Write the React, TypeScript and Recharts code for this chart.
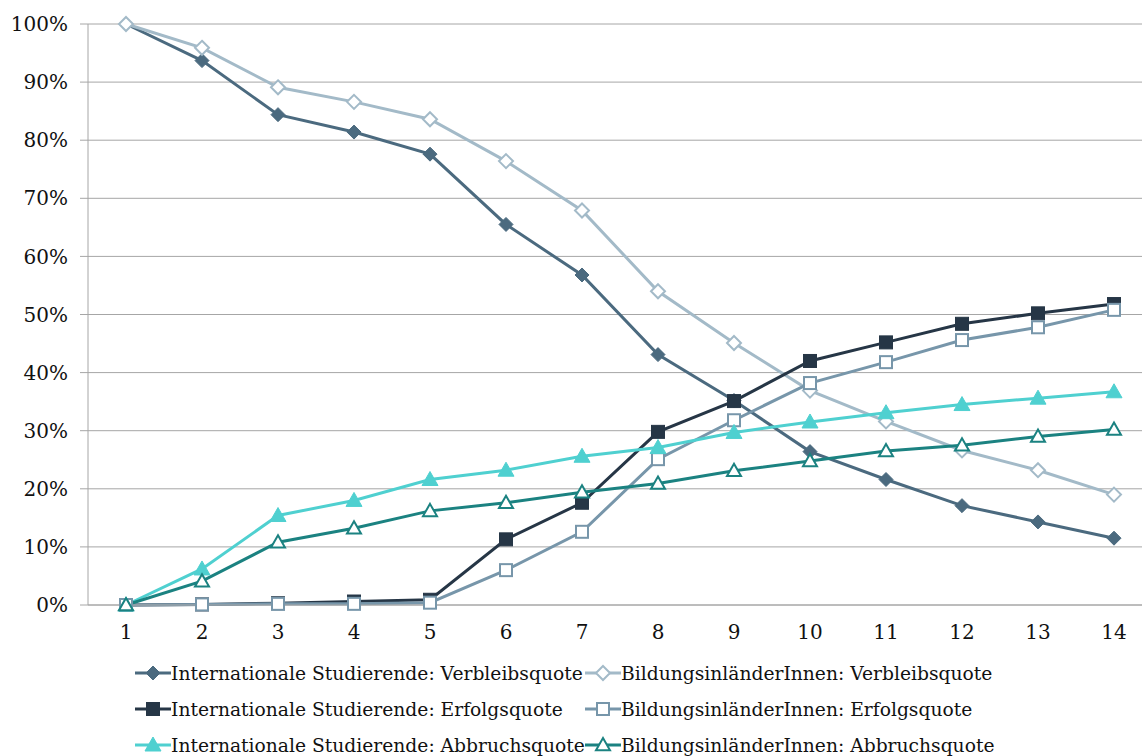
import React from "react";
import { LineChart, Line, XAxis, YAxis, CartesianGrid } from "recharts";

// Semester (Fachsemester) on the x axis
const semester = ["1", "2", "3", "4", "5", "6", "7", "8", "9", "10", "11", "12", "13", "14"];

// Quoten in Prozent
const intVerbleib = [100, 93.7, 84.4, 81.4, 77.6, 65.5, 56.8, 43.1, 35.2, 26.4, 21.6, 17.1, 14.3, 11.5];
const bilVerbleib = [100, 95.9, 89.1, 86.6, 83.6, 76.4, 67.9, 54.0, 45.1, 36.9, 31.6, 26.6, 23.2, 19.0];
const intErfolg = [0, 0.1, 0.3, 0.6, 0.9, 11.3, 17.6, 29.8, 35.1, 42.0, 45.2, 48.4, 50.2, 51.8];
const bilErfolg = [0, 0.1, 0.2, 0.2, 0.4, 6.0, 12.6, 25.1, 31.8, 38.2, 41.8, 45.6, 47.8, 50.8];
const intAbbruch = [0, 6.2, 15.4, 18.0, 21.6, 23.2, 25.6, 27.1, 29.7, 31.5, 33.1, 34.5, 35.6, 36.7];
const bilAbbruch = [0, 4.1, 10.8, 13.2, 16.2, 17.6, 19.4, 20.9, 23.1, 24.8, 26.5, 27.5, 29.0, 30.2];

const yTicks = [0, 10, 20, 30, 40, 50, 60, 70, 80, 90, 100];

const FONT = "'DejaVu Serif', serif";

const data = semester.map((s, i) => ({
  s,
  iv: intVerbleib[i],
  bv: bilVerbleib[i],
  ie: intErfolg[i],
  be: bilErfolg[i],
  ia: intAbbruch[i],
  ba: bilAbbruch[i],
}));

type Shape = "diamond" | "square" | "triangle";

const series: { key: string; name: string; color: string; shape: Shape; open: boolean }[] = [
  { key: "iv", name: "Internationale Studierende: Verbleibsquote", color: "#4b6a7f", shape: "diamond", open: false },
  { key: "bv", name: "BildungsinländerInnen: Verbleibsquote", color: "#a3bac8", shape: "diamond", open: true },
  { key: "ie", name: "Internationale Studierende: Erfolgsquote", color: "#263646", shape: "square", open: false },
  { key: "be", name: "BildungsinländerInnen: Erfolgsquote", color: "#7796aa", shape: "square", open: true },
  { key: "ia", name: "Internationale Studierende: Abbruchsquote", color: "#4fd0d0", shape: "triangle", open: false },
  { key: "ba", name: "BildungsinländerInnen: Abbruchsquote", color: "#1b8281", shape: "triangle", open: true },
];

const Marker = ({ cx, cy, shape, color, open }: { cx: number; cy: number; shape: Shape; color: string; open: boolean }) => {
  const fill = open ? "#ffffff" : color;
  const sw = open ? 2 : 1;
  if (shape === "diamond") {
    const r = 7;
    return <path d={`M${cx},${cy - r}L${cx + r},${cy}L${cx},${cy + r}L${cx - r},${cy}Z`} fill={fill} stroke={color} strokeWidth={sw} />;
  }
  if (shape === "square") {
    const r = open ? 6 : 6.5;
    return <rect x={cx - r} y={cy - r} width={r * 2} height={r * 2} fill={fill} stroke={color} strokeWidth={sw} />;
  }
  const r = open ? 7 : 8;
  return <path d={`M${cx},${cy - r}L${cx + r},${cy + r * 0.75}L${cx - r},${cy + r * 0.75}Z`} fill={fill} stroke={color} strokeWidth={sw} />;
};

const LegendBlock = () => (
  <div style={{ position: "absolute", left: 135, top: 655, width: 900, fontFamily: FONT, fontSize: 18.7, color: "#111" }}>
    {[0, 1, 2].map((row) => (
      <div key={row} style={{ display: "flex", height: 36, alignItems: "center" }}>
        {[0, 1].map((col) => {
          const s = series[row * 2 + col];
          return (
            <div key={s.key} style={{ display: "flex", alignItems: "center", width: 450 }}>
              <svg width={36} height={20} style={{ flex: "none" }}>
                <line x1={0} y1={10} x2={36} y2={10} stroke={s.color} strokeWidth={3} />
                <Marker cx={18} cy={10} shape={s.shape} color={s.color} open={s.open} />
              </svg>
              <span style={{ whiteSpace: "nowrap" }}>{s.name}</span>
            </div>
          );
        })}
      </div>
    ))}
  </div>
);

export default function App() {
  return (
    <div style={{ position: "absolute", left: 0, top: 0, width: 1142, height: 756, background: "#fff" }}>
      <LineChart width={1142} height={660} data={data} margin={{ top: 24, right: 0, bottom: 0, left: 0 }}>
        <CartesianGrid vertical={false} stroke="#a6a6a6" strokeWidth={1} />
        <XAxis
          dataKey="s"
          padding={{ left: 38, right: 28 }}
          axisLine={{ stroke: "#a6a6a6" }}
          tickLine={false}
          height={55}
          tickMargin={14}
          tick={{ fontFamily: FONT, fontSize: 20, fill: "#111" }}
        />
        <YAxis
          domain={[0, 100]}
          ticks={yTicks}
          width={88}
          tickFormatter={(v: number) => `${v}%`}
          axisLine={{ stroke: "#a6a6a6" }}
          tickLine={{ stroke: "#a6a6a6" }}
          tickSize={8}
          tickMargin={12}
          tick={{ fontFamily: FONT, fontSize: 20, fill: "#111" }}
        />
        {series.map((s) => (
          <Line
            key={s.key}
            dataKey={s.key}
            name={s.name}
            type="linear"
            stroke={s.color}
            strokeWidth={3}
            isAnimationActive={false}
            dot={(p: any) => <Marker key={`${s.key}-${p.index}`} cx={p.cx} cy={p.cy} shape={s.shape} color={s.color} open={s.open} />}
            activeDot={false}
          />
        ))}
      </LineChart>
      <LegendBlock />
    </div>
  );
}
